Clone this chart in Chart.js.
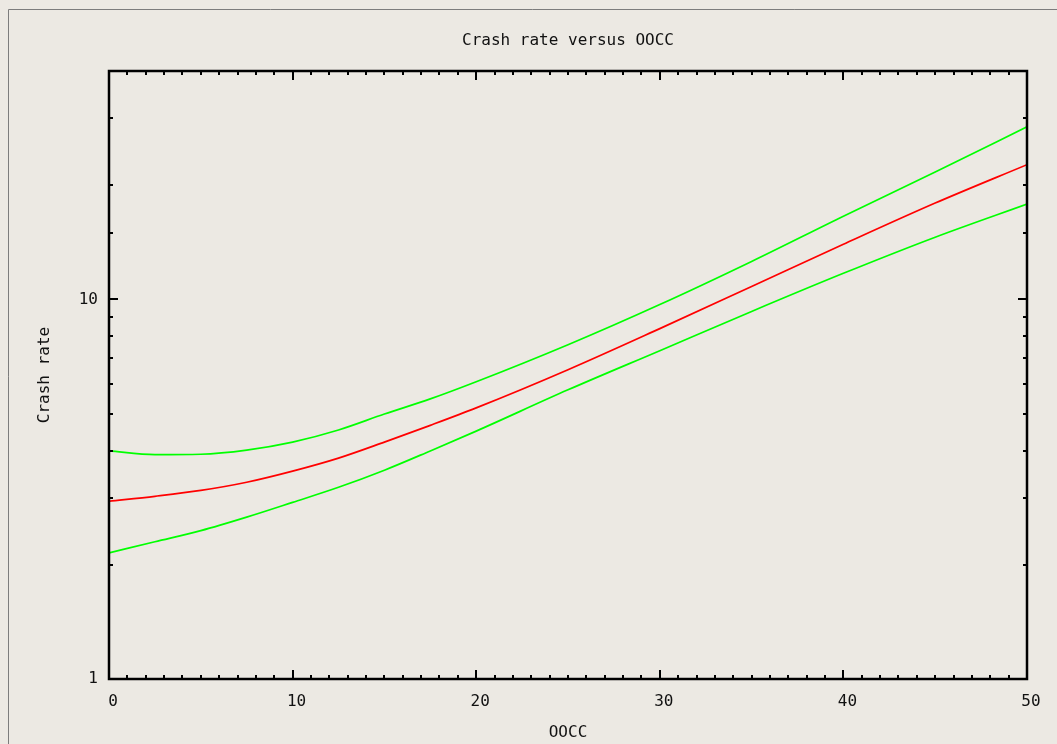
<!DOCTYPE html>
<html>
<head>
<meta charset="utf-8">
<script src="https://cdn.jsdelivr.net/npm/chart.js@4/dist/chart.umd.min.js"></script>
<style>
  html, body { margin: 0; padding: 0; background: #ece9e3; overflow: hidden; }
  #wrap { width: 1057px; height: 744px; }
</style>
</head>
<body>
<div id="wrap"><canvas id="crashChart"></canvas></div>
<script>
// OOCC values and fitted crash rate with its upper / lower band
const oocc = [0, 2.5, 5, 7.5, 10, 12.5, 15, 17.5, 20, 25, 30, 35, 40, 45, 50];
const crashRate = [2.94, 3.03, 3.14, 3.30, 3.53, 3.82, 4.21, 4.66, 5.18, 6.53, 8.38, 10.82, 13.98, 17.95, 22.66];
const upperBand = [3.99, 3.90, 3.91, 4.01, 4.21, 4.53, 4.99, 5.47, 6.07, 7.60, 9.70, 12.60, 16.58, 21.68, 28.51];
const lowerBand = [2.15, 2.30, 2.46, 2.67, 2.92, 3.20, 3.55, 3.99, 4.50, 5.78, 7.33, 9.30, 11.72, 14.59, 17.84];
const yLabels = [1, 10];

const bg = '#ece9e3';
const textFont = { family: "'DejaVu Sans Mono', monospace", size: 16 };

function toPoints(ys) {
    return oocc.map((x, i) => ({ x: x, y: ys[i] }));
}

// background, outer frame, boxed axes with inward tick marks
const frameAndTicks = {
    id: 'frameAndTicks',
    beforeDraw(chart) {
        const ctx = chart.ctx;
        ctx.save();
        ctx.fillStyle = bg;
        ctx.fillRect(0, 0, chart.width, chart.height);
        ctx.strokeStyle = '#7c7c7c';
        ctx.lineWidth = 1;
        ctx.beginPath();
        ctx.moveTo(8.5, chart.height);
        ctx.lineTo(8.5, 9.5);
        ctx.lineTo(chart.width, 9.5);
        ctx.stroke();
        ctx.restore();
    },
    afterDraw(chart) {
        const ctx = chart.ctx;
        const a = chart.chartArea;
        const x = chart.scales.x;
        const y = chart.scales.y;
        ctx.save();
        ctx.strokeStyle = '#000';
        ctx.lineWidth = 2;
        ctx.beginPath();
        for (let v = x.min; v <= x.max; v++) {
            const px = Math.round(x.getPixelForValue(v));
            const len = v % 10 === 0 ? 9 : 4;
            ctx.moveTo(px, a.bottom);
            ctx.lineTo(px, a.bottom - len);
            ctx.moveTo(px, a.top);
            ctx.lineTo(px, a.top + len);
        }
        y.ticks.forEach(t => {
            const py = Math.round(y.getPixelForValue(t.value));
            const len = yLabels.includes(t.value) ? 9 : 4;
            ctx.moveTo(a.left, py);
            ctx.lineTo(a.left + len, py);
            ctx.moveTo(a.right, py);
            ctx.lineTo(a.right - len, py);
        });
        ctx.stroke();
        ctx.lineWidth = 2.5;
        ctx.strokeRect(a.left, a.top, a.right - a.left, a.bottom - a.top);
        ctx.restore();
    }
};

const crashChart = new Chart(document.getElementById('crashChart'), {
    type: 'line',
    data: {
        datasets: [
            {
                label: 'Upper',
                data: toPoints(upperBand),
                borderColor: '#00ff00',
                borderWidth: 1.7
            },
            {
                label: 'Crash rate',
                data: toPoints(crashRate),
                borderColor: '#ff0000',
                borderWidth: 1.7
            },
            {
                label: 'Lower',
                data: toPoints(lowerBand),
                borderColor: '#00ff00',
                borderWidth: 1.7
            }
        ]
    },
    options: {
        responsive: true,
        maintainAspectRatio: false,
        animation: false,
        cubicInterpolationMode: 'monotone',
        pointRadius: 0,
        layout: {
            padding: { top: 0, left: 0, right: 30, bottom: 0 }
        },
        plugins: {
            legend: { display: false },
            tooltip: { enabled: false },
            title: {
                display: true,
                text: 'Crash rate versus OOCC',
                fullSize: false,
                color: '#111',
                font: { family: textFont.family, size: 16, weight: 'normal' },
                padding: { top: 31, bottom: 20.8 }
            }
        },
        scales: {
            x: {
                type: 'linear',
                min: 0,
                max: 50,
                grid: { display: false, drawTicks: false },
                border: { display: false },
                ticks: {
                    stepSize: 10,
                    color: '#111',
                    font: textFont,
                    padding: 13,
                    labelOffset: 4,
                    maxRotation: 0
                },
                title: {
                    display: true,
                    text: 'OOCC',
                    color: '#111',
                    font: textFont,
                    padding: { top: 0, bottom: 2 }
                },
                afterFit(scale) {
                    scale.height = 65;
                }
            },
            y: {
                type: 'logarithmic',
                min: 1,
                max: 40,
                grid: { display: false, drawTicks: false },
                border: { display: false },
                ticks: {
                    autoSkip: false,
                    color: '#111',
                    font: textFont,
                    padding: 11,
                    callback: v => yLabels.includes(v) ? String(v) : ''
                },
                title: {
                    display: true,
                    text: 'Crash rate',
                    color: '#111',
                    font: textFont,
                    padding: { top: 35, bottom: 0 }
                },
                afterFit(scale) {
                    scale.width = 109;
                }
            }
        }
    },
    plugins: [frameAndTicks]
});
</script>
</body>
</html>
